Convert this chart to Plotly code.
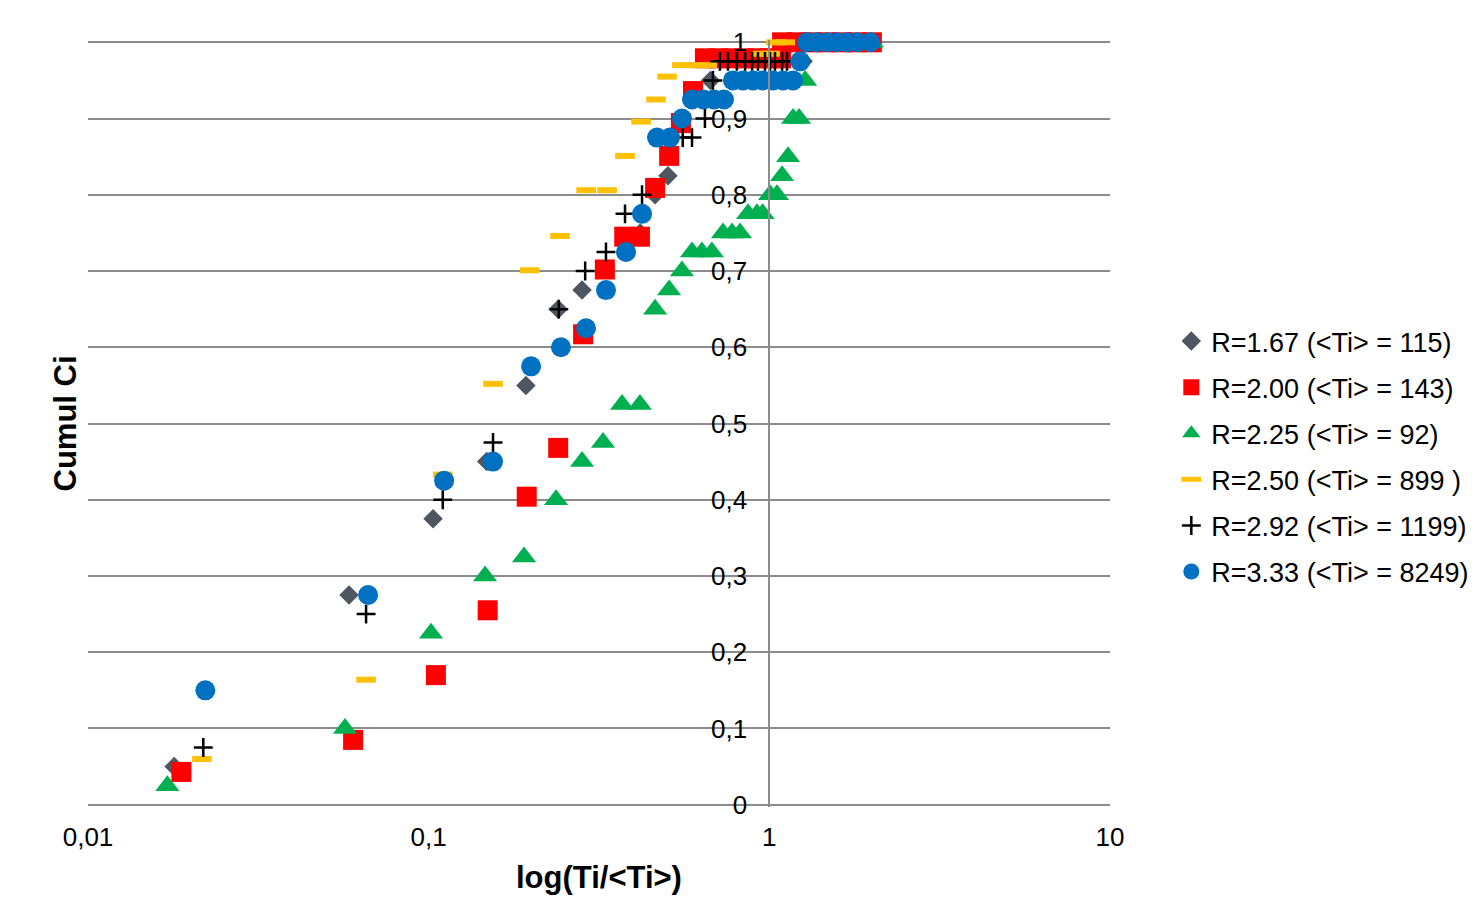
import plotly.graph_objects as go

# ---------------- data ----------------
names = [
    "R=1.67 (&lt;Ti&gt; = 115)",
    "R=2.00 (&lt;Ti&gt; = 143)",
    "R=2.25 (&lt;Ti&gt; = 92)",
    "R=2.50 (&lt;Ti&gt; = 899 )",
    "R=2.92 (&lt;Ti&gt; = 1199)",
    "R=3.33 (&lt;Ti&gt; = 8249)",
]

x_r167 = [0.0179, 0.0584, 0.103, 0.148, 0.193, 0.240, 0.282, 0.418, 0.462, 0.504, 0.672, 1.257, 1.40]
y_r167 = [0.05, 0.275, 0.375, 0.45, 0.55, 0.65, 0.675, 0.75, 0.80, 0.825, 0.95, 0.975, 1.0]

x_r200 = [0.0188, 0.060, 0.105, 0.149, 0.194, 0.240, 0.284, 0.329, 0.375, 0.417, 0.462, 0.508,
          0.550, 0.597, 0.647, 0.708, 0.772, 0.843, 0.921, 1.005, 1.082,
          1.090, 1.207, 1.333, 1.475, 1.633, 1.806, 2.000]
y_r200 = [0.043, 0.085, 0.170, 0.255, 0.404, 0.468, 0.617, 0.702, 0.745, 0.745, 0.809, 0.851,
          0.894, 0.936, 0.979, 0.979, 0.979, 0.979, 0.979, 0.979, 0.979,
          1.0, 1.0, 1.0, 1.0, 1.0, 1.0, 1.0]

x_r225 = [0.0171, 0.0568, 0.1016, 0.1464, 0.1905, 0.2365, 0.282, 0.325, 0.3695, 0.417,
          0.462, 0.508, 0.554, 0.593, 0.634, 0.678, 0.731, 0.777, 0.820, 0.866, 0.920, 0.956,
          1.005, 1.053, 1.090, 1.135, 1.174, 1.223, 1.274, 2.0]
y_r225 = [0.025, 0.10, 0.225, 0.30, 0.325, 0.40, 0.45, 0.475, 0.525, 0.525,
          0.65, 0.675, 0.70, 0.725, 0.725, 0.725, 0.75, 0.75, 0.75, 0.775, 0.775, 0.775,
          0.80, 0.80, 0.825, 0.85, 0.90, 0.90, 0.95, 1.0]

x_r250 = [0.0216, 0.0655, 0.110, 0.1545, 0.198, 0.243, 0.290, 0.334, 0.377, 0.420, 0.465, 0.501,
          0.554, 0.605, 0.657, 0.956, 1.005, 1.046, 1.113]
y_r250 = [0.060, 0.164, 0.433, 0.552, 0.701, 0.746, 0.806, 0.806, 0.851, 0.896, 0.925, 0.955,
          0.970, 0.970, 0.970, 0.985, 0.985, 1.0, 1.0]

x_r292 = [0.0218, 0.0655, 0.110, 0.1545, 0.241, 0.288, 0.3315, 0.377, 0.423, 0.557, 0.593, 0.647, 0.683,
          0.716, 0.756, 0.803, 0.849, 0.890, 0.926, 0.971, 1.005, 1.039, 1.090, 1.127, 1.315]
y_r292 = [0.075, 0.25, 0.40, 0.475, 0.65, 0.70, 0.725, 0.775, 0.80, 0.875, 0.875, 0.90, 0.95,
          0.975, 0.975, 0.975, 0.975, 0.975, 0.975, 0.975, 0.975, 0.975, 0.975, 0.975, 1.0]

x_r333 = [0.0221, 0.0664, 0.111, 0.1545, 0.1998, 0.2445, 0.2897, 0.3315, 0.3796, 0.423, 0.468, 0.511,
          0.554, 0.593, 0.640, 0.688, 0.736, 0.782, 0.837, 0.896, 0.956, 1.025, 1.097, 1.174,
          1.232, 1.29, 1.38, 1.48, 1.58, 1.69, 1.81, 1.98]
y_r333 = [0.15, 0.275, 0.425, 0.45, 0.575, 0.60, 0.625, 0.675, 0.725, 0.775, 0.875, 0.875,
          0.90, 0.925, 0.925, 0.925, 0.925, 0.95, 0.95, 0.95, 0.95, 0.95, 0.95, 0.95,
          0.975, 1.0, 1.0, 1.0, 1.0, 1.0, 1.0, 1.0]

x_tickvals = [0.01, 0.1, 1, 10]
x_ticktext = ["0,01", "0,1", "1", "10"]
y_tickvals = [0, 0.1, 0.2, 0.3, 0.4, 0.5, 0.6, 0.7, 0.8, 0.9, 1.0]
y_ticktext = ["0", "0,1", "0,2", "0,3", "0,4", "0,5", "0,6", "0,7", "0,8", "0,9", "1"]

x_title = "log(Ti/&lt;Ti&gt;)"
y_title = "Cumul Ci"

# ---------------- styles ----------------
FONT = "Liberation Sans, Arial, sans-serif"
GRID = "#8c8c8c"

series = [
    (x_r167, y_r167, dict(symbol="diamond", size=15, color="#4e5661", line=dict(width=0))),
    (x_r200, y_r200, dict(symbol="square", size=20, color="#ff0000", line=dict(width=0))),
    (x_r225, y_r225, dict(symbol="triangle-up", size=21, color="#00b050", line=dict(width=0))),
    (x_r250, y_r250, dict(symbol="line-ew", size=14, color="#ffc000", line=dict(width=6, color="#ffc000"))),
    (x_r292, y_r292, dict(symbol="cross-thin", size=13.5, color="#000000", line=dict(width=2.5, color="#000000"))),
    (x_r333, y_r333, dict(symbol="circle", size=20, color="#0070c0", line=dict(width=0))),
]

fig = go.Figure()
for i, (xs, ys, mk) in enumerate(series):
    fig.add_trace(go.Scatter(
        x=xs, y=ys, mode="markers", name=names[i], marker=mk,
        legendgroup=f"g{i}", cliponaxis=False,
    ))

fig.update_layout(
    width=1472, height=897,
    margin=dict(l=88, r=362, t=40, b=90, autoexpand=False),
    paper_bgcolor="white", plot_bgcolor="white",
    font=dict(family=FONT, size=26, color="#000000"),
    showlegend=True,
    legend=dict(
        x=1.06, xanchor="left", y=0.457, yanchor="middle",
        font=dict(family=FONT, size=27, color="#000000"),
        tracegroupgap=8, bgcolor="rgba(0,0,0,0)", borderwidth=0,
        itemwidth=30,
    ),
    xaxis=dict(
        type="log", range=[-2, 1],
        tickmode="array", tickvals=x_tickvals, ticktext=x_ticktext,
        showgrid=False, zeroline=False, showline=False, ticks="",
        tickfont=dict(family=FONT, size=26, color="#000000"),
        ticklabelstandoff=12,
    ),
    yaxis=dict(
        range=[-0.003, 1.003], anchor="free", position=2/3, side="left",
        tickmode="array", tickvals=y_tickvals, ticktext=y_ticktext,
        showgrid=True, gridcolor=GRID, gridwidth=2,
        zeroline=False, showline=True, linecolor=GRID, linewidth=2, ticks="",
        tickfont=dict(family=FONT, size=26, color="#000000"),
        ticklabelstandoff=16,
    ),
    annotations=[
        dict(text=x_title, xref="paper", yref="paper", x=0.5, y=-0.092,
             xanchor="center", yanchor="middle", showarrow=False,
             font=dict(family=FONT, size=31, color="#000000", weight="bold")),
        dict(text=y_title, xref="paper", yref="paper", x=-0.0225, y=0.5,
             xanchor="center", yanchor="middle", showarrow=False, textangle=-90,
             font=dict(family=FONT, size=31, color="#000000", weight="bold")),
    ],
)

fig.write_html("out.html")
